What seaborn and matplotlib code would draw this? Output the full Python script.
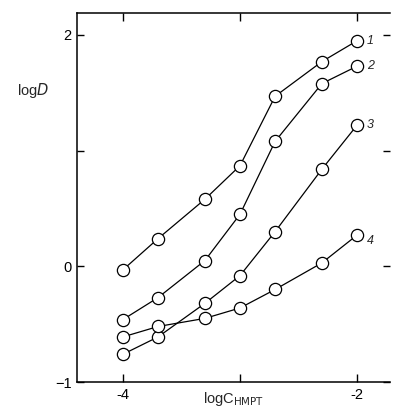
import numpy as np
import pandas as pd
import matplotlib
matplotlib.use("Agg")
import matplotlib.pyplot as plt
import seaborn as sns

# log of HMPT concentration (1e-4 ... 1e-2 M)
logC = [-4.0, -3.70, -3.30, -3.0, -2.70, -2.30, -2.0]

curve1 = [-0.03, 0.24, 0.58, 0.87, 1.47, 1.77, 1.95]
curve2 = [-0.46, -0.27, 0.05, 0.45, 1.08, 1.58, 1.73]
curve3 = [-0.76, -0.61, -0.32, -0.08, 0.30, 0.84, 1.22]
curve4 = [-0.61, -0.52, -0.45, -0.36, -0.20, 0.03, 0.27]
curve_names = ["1", "2", "3", "4"]

data = pd.DataFrame({"logC": logC * 4,
                     "logD": curve1 + curve2 + curve3 + curve4,
                     "curve": sum([[n] * len(logC) for n in curve_names], [])})

sns.set_style("white")
plt.rcParams["font.family"] = ["Liberation Sans", "DejaVu Sans"]

fig = plt.figure(figsize=(3.96, 4.15), dpi=100)
ax = fig.add_axes([0.1944, 0.0795, 0.7906, 0.8892])

for name in curve_names:
    sub = data[data["curve"] == name]
    sns.lineplot(data=sub, x="logC", y="logD", ax=ax, color="black", linewidth=0.9,
                 marker="o", markersize=8.8, markerfacecolor="white",
                 markeredgecolor="black", markeredgewidth=0.9, zorder=3)
    last = sub.iloc[-1]
    dy = -4 if name == "4" else 0
    ax.annotate(name, (last["logC"], last["logD"]), xytext=(7, dy),
                textcoords="offset points", ha="left", va="center",
                fontsize=9, style="italic")

ax.set_xlim(-4.393, -1.718)
ax.set_ylim(-1.0, 2.19)

ax.set_xticks([-4, -3, -2])
ax.set_xticklabels(["-4", "", "-2"])
ax.set_yticks([-1, 0, 1, 2])
ax.set_yticklabels(["\u22121", "0", "", "2"])

ax.tick_params(direction="in", length=6, width=1.0, labelsize=10.5, colors="black",
               top=True, right=True, bottom=True, left=True, pad=4)
ax.tick_params(axis="y", which="both", right=True, length=5)

for side in ["left", "bottom", "top"]:
    ax.spines[side].set_color("black")
    ax.spines[side].set_linewidth(1.1)
ax.spines["right"].set_visible(False)

ax.set_xlabel("")
ax.set_ylabel("")
ax.text(-0.19, 0.79, r"log$\it{D}$", transform=ax.transAxes, fontsize=10.5,
        ha="left", va="center")
ax.text(0.5, -0.058, r"logC$_{\mathrm{HMPT}}$", transform=ax.transAxes,
        fontsize=10.5, ha="center", va="baseline")

fig.savefig("out.png", dpi=100)
